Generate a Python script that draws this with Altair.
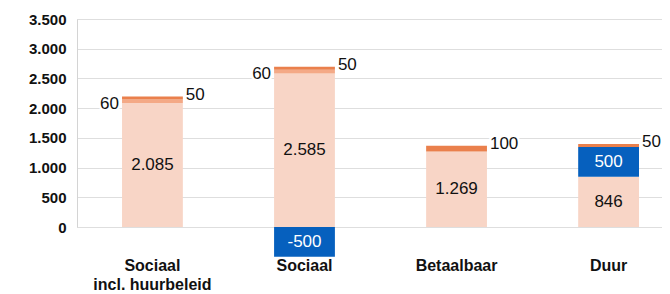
import altair as alt
import pandas as pd

# ---- data ----
categories = ["Sociaal incl. huurbeleid", "Sociaal", "Betaalbaar", "Duur"]
base_vals = [2085, 2585, 1269, 846]     # light peach base segment
blue_vals = [0, -500, 0, 500]           # blue segment
mid_vals = [60, 60, 0, 0]               # light orange segment
top_vals = [50, 50, 100, 50]            # orange segment on top
y_ticks = [0, 500, 1000, 1500, 2000, 2500, 3000, 3500]

seg_names = ["base", "blue", "mid", "top"]
seg_colors = ["#F8D5C6", "#0660BE", "#F4A986", "#EA804C"]

FONT = "Liberation Sans"


def fmt(v):
    return f"{v:,}".replace(",", ".")


rows = []
for i, cat in enumerate(categories):
    cur = 0
    for seg, vals in zip(seg_names, [base_vals, blue_vals, mid_vals, top_vals]):
        v = vals[i]
        if v > 0:
            rows.append({"cat": cat, "seg": seg, "v": v, "y0": cur, "y1": cur + v})
            cur += v
        elif v < 0:
            rows.append({"cat": cat, "seg": seg, "v": v, "y0": 0, "y1": v})
segs = pd.DataFrame(rows)
segs["label"] = segs["v"].map(fmt)
segs["ymid"] = (segs["y0"] + segs["y1"]) / 2

x_scale = alt.Scale(domain=categories, paddingInner=0.6, paddingOuter=0.2237, align=0.662)
x_axis = alt.Axis(
    title=None, labelAngle=0, domain=False, ticks=False, labelPadding=30,
    labelFontSize=16, labelFontWeight="bold", labelFont=FONT, labelColor="#111111",
    labelLineHeight=19, labelOverlap=False, labelBound=False,
    labelExpr="datum.label == 'Sociaal incl. huurbeleid' ? ['Sociaal', 'incl. huurbeleid'] : datum.label",
)
y_scale = alt.Scale(domain=[0, 3500], nice=False, zero=False)
y_axis = alt.Axis(
    title=None, values=y_ticks, grid=True, gridColor="#DEDEDE", gridWidth=1,
    domain=True, domainColor="#D4D4D4", ticks=False, labelPadding=11,
    labelFontSize=15, labelFontWeight="bold", labelFont=FONT, labelColor="#111111",
    labelOverlap=False, labelBound=False, labelFlush=False,
    labelExpr="replace(format(datum.value, ','), ',', '.')",
)


def X(band_pos=None):
    if band_pos is None:
        return alt.X("cat:N", scale=x_scale, axis=x_axis, sort=categories)
    return alt.X("cat:N", scale=x_scale, axis=x_axis, sort=categories, bandPosition=band_pos)


def Y(field):
    return alt.Y(f"{field}:Q", scale=y_scale, axis=y_axis)


bars = alt.Chart(segs).mark_bar().encode(
    x=X(),
    y=Y("y0"),
    y2="y1:Q",
    color=alt.Color("seg:N", scale=alt.Scale(domain=seg_names, range=seg_colors), legend=None),
)

inside_base = alt.Chart(segs).transform_filter("datum.seg == 'base'").mark_text(
    font=FONT, fontSize=17, color="#111111", align="center", baseline="middle"
).encode(x=X(), y=Y("ymid"), text="label:N")
inside_blue = alt.Chart(segs).transform_filter("datum.seg == 'blue'").mark_text(
    font=FONT, fontSize=17, color="white", align="center", baseline="middle"
).encode(x=X(), y=Y("ymid"), text="label:N")


def side_labels(seg, field, band_pos, align, dx, dy):
    layers = []
    for halo in (True, False):
        kw = dict(font=FONT, fontSize=17, color="#111111", align=align,
                  baseline="middle", dx=dx, dy=dy)
        if halo:
            kw.update(stroke="white", strokeWidth=5, strokeJoin="round")
        layers.append(
            alt.Chart(segs).transform_filter(f"datum.seg == '{seg}'").mark_text(**kw).encode(
                x=X(band_pos), y=Y(field), text="label:N",
            )
        )
    return layers


left_lbls = side_labels("mid", "y0", 0, "right", -3, 1)
right_lbls = side_labels("top", "y1", 1, "left", 3, -2)

chart = alt.layer(bars, inside_base, inside_blue, *left_lbls, *right_lbls).properties(
    width=585, height=208,
    autosize=alt.AutoSizeParams(type="none"),
    padding={"left": 69, "top": 11, "right": 0, "bottom": 67},
).configure_view(stroke=None).configure(background="white")

chart.save("out.html", embed_options={"renderer": "svg", "actions": False})
